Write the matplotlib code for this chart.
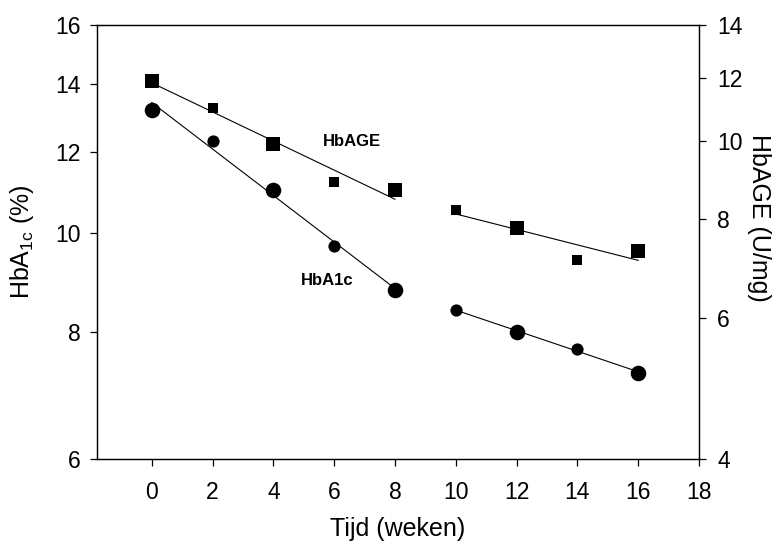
import numpy as np
import matplotlib
matplotlib.use('Agg')
import matplotlib.pyplot as plt
from matplotlib.ticker import NullLocator, FixedLocator, FixedFormatter

plt.rcParams['font.family'] = ['Liberation Sans', 'DejaVu Sans']

# data
weeks = [0, 2, 4, 6, 8, 10, 12, 14, 16]
hba1c = [13.19, 12.30, 11.00, 9.70, 8.79, 8.40, 7.99, 7.69, 7.29]
hbage = [11.89, 11.00, 9.91, 8.90, 8.69, 8.20, 7.79, 7.10, 7.29]
segments = [(0, 8), (10, 16)]

left_ticks = [6, 8, 10, 12, 14, 16]
right_ticks = [4, 6, 8, 10, 12, 14]
x_ticks = [0, 2, 4, 6, 8, 10, 12, 14, 16, 18]

fig = plt.figure(figsize=(7.8, 5.41), dpi=100)
ax = fig.add_axes([0.1244, 0.1516, 0.7718, 0.8031])
ax2 = ax.twinx()

x = np.array(weeks, dtype=float)
big = np.arange(len(x)) % 2 == 0


def draw(axis, yvals, marker, ms_big, ms_small):
    y = np.array(yvals)
    # log-linear regression line per segment
    for a, b in segments:
        m = (x >= a) & (x <= b)
        k, c = np.polyfit(x[m], np.log(y[m]), 1)
        xs = np.array([a, b], dtype=float)
        axis.plot(xs, np.exp(k * xs + c), color='black', lw=0.8, zorder=2)
    axis.plot(x[big], y[big], ls='none', marker=marker, ms=ms_big,
              color='black', mew=0, zorder=3)
    axis.plot(x[~big], y[~big], ls='none', marker=marker, ms=ms_small,
              color='black', mew=0, zorder=3)


draw(ax, hba1c, 'o', 11.2, 8.8)
draw(ax2, hbage, 's', 9.4, 7.7)

ax.set_xlim(-1.8, 18)
ax.set_yscale('log')
ax.set_ylim(6, 16)
ax2.set_yscale('log')
ax2.set_ylim(4, 14)

ax.set_xticks(x_ticks)
ax.yaxis.set_major_locator(FixedLocator(left_ticks))
ax.yaxis.set_major_formatter(FixedFormatter([str(t) for t in left_ticks]))
ax.yaxis.set_minor_locator(NullLocator())
ax2.yaxis.set_major_locator(FixedLocator(right_ticks))
ax2.yaxis.set_major_formatter(FixedFormatter([str(t) for t in right_ticks]))
ax2.yaxis.set_minor_locator(NullLocator())

ax.tick_params(axis='x', labelsize=16.5, length=5, width=0.9, pad=11,
               direction='out', top=False)
ax.tick_params(axis='y', labelsize=16.5, length=5, width=0.9, pad=7,
               direction='out', right=False)
ax2.tick_params(axis='y', labelsize=16.5, length=5, width=0.9, pad=8,
                direction='out')
for a in (ax, ax2):
    for s in a.spines.values():
        s.set_linewidth(0.9)

ax.set_xlabel('Tijd (weken)', fontsize=18, va='center')
ax.xaxis.set_label_coords(0.5, -0.161)
ax.set_ylabel('HbA$_{\\mathregular{1c}}$ (%)', fontsize=18, va='center')
ax.yaxis.set_label_coords(-0.125, 0.5)
ax2.set_ylabel('HbAGE (U/mg)', fontsize=18, rotation=270, va='center')
ax2.yaxis.set_label_coords(1.1, 0.556)

ax.text(0.4236, 0.7296, 'HbAGE', transform=ax.transAxes, fontsize=12,
        fontweight='bold', ha='center', va='center')
ax.text(0.382, 0.410, 'HbA1c', transform=ax.transAxes, fontsize=12,
        fontweight='bold', ha='center', va='center')

fig.savefig('out.png', dpi=100)
